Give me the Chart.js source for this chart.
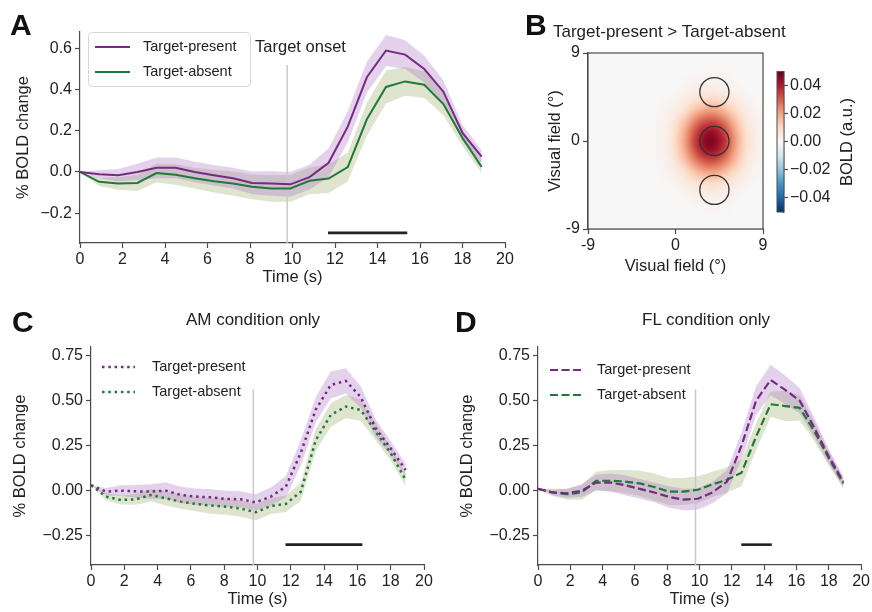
<!DOCTYPE html>
<html>
<head>
<meta charset="utf-8">
<script src="https://cdn.jsdelivr.net/npm/chart.js@4.4.1/dist/chart.umd.min.js"></script>
<style>
  html, body { margin: 0; padding: 0; background: #fff; }
  #fig { position: relative; width: 872px; height: 612px; overflow: hidden; background: #fff;
         font-family: "Liberation Sans", Arial, sans-serif; color: #222; }
  #fig canvas { position: absolute; }
  .letter { position: absolute; font-weight: bold; font-size: 30px; line-height: 30px; color: #111; }
  .title { position: absolute; font-size: 17px; line-height: 17px; color: #222; white-space: nowrap; }
</style>
</head>
<body>
<div id="fig">
  <canvas id="cA" width="520" height="290" style="left:0px;top:0px;width:520px;height:290px"></canvas>
  <canvas id="cB" width="240" height="241" style="left:530px;top:39px;width:240px;height:241px"></canvas>
  <canvas id="cBar" width="102" height="165" style="left:770px;top:60px;width:102px;height:165px"></canvas>
  <canvas id="cC" width="436" height="317" style="left:0px;top:295px;width:436px;height:317px"></canvas>
  <canvas id="cD" width="424" height="317" style="left:448px;top:295px;width:424px;height:317px"></canvas>

  <div class="letter" style="left:10px;top:10px">A</div>
  <div class="letter" style="left:525px;top:10px">B</div>
  <div class="letter" style="left:12px;top:307px">C</div>
  <div class="letter" style="left:455px;top:307px">D</div>

  <div class="title" style="left:553px;top:23px">Target-present &gt; Target-absent</div>
  <div class="title" style="left:253px;top:311px;transform:translateX(-50%)">AM condition only</div>
  <div class="title" style="left:706px;top:311px;transform:translateX(-50%)">FL condition only</div>
</div>

<script>
// ---------- time courses (% BOLD change), one sample every 0.9 s ----------
const TIME = [0, 0.9, 1.8, 2.7, 3.6, 4.5, 5.4, 6.3, 7.2, 8.1, 9.0, 9.9, 10.8, 11.7, 12.6, 13.5, 14.4, 15.3, 16.2, 17.1, 18.0, 18.9];

// A: all trials
const A_PRESENT     = [0, -0.011, -0.016, 0.0, 0.02, 0.02, 0.0, -0.016, -0.03, -0.053, -0.056, -0.06, -0.025, 0.045, 0.22, 0.46, 0.59, 0.57, 0.50, 0.39, 0.19, 0.075];
const A_PRESENT_ERR = [0, 0.02, 0.03, 0.04, 0.05, 0.05, 0.05, 0.05, 0.05, 0.055, 0.06, 0.06, 0.06, 0.07, 0.075, 0.075, 0.075, 0.07, 0.065, 0.055, 0.04, 0.03];
const A_ABSENT      = [0, -0.048, -0.056, -0.053, -0.005, -0.013, -0.03, -0.045, -0.056, -0.072, -0.08, -0.08, -0.043, -0.032, 0.024, 0.256, 0.413, 0.44, 0.424, 0.33, 0.165, 0.025];
const A_ABSENT_ERR  = [0, 0.02, 0.03, 0.04, 0.045, 0.05, 0.05, 0.055, 0.06, 0.06, 0.065, 0.065, 0.065, 0.07, 0.07, 0.08, 0.08, 0.07, 0.065, 0.055, 0.04, 0.03];

// C: AM condition
const C_PRESENT     = [0.03, -0.005, 0, -0.004, -0.005, 0.0, -0.024, -0.033, -0.037, -0.046, -0.048, -0.065, -0.033, 0.022, 0.21, 0.45, 0.587, 0.61, 0.52, 0.346, 0.235, 0.115];
const C_PRESENT_ERR = [0, 0.02, 0.03, 0.035, 0.04, 0.045, 0.045, 0.045, 0.045, 0.045, 0.045, 0.045, 0.05, 0.06, 0.07, 0.07, 0.075, 0.07, 0.06, 0.05, 0.04, 0.035];
const C_ABSENT      = [0.03, -0.033, -0.052, -0.048, -0.024, -0.043, -0.061, -0.074, -0.083, -0.089, -0.1, -0.12, -0.085, -0.074, -0.006, 0.28, 0.42, 0.467, 0.448, 0.328, 0.207, 0.06];
const C_ABSENT_ERR  = [0, 0.02, 0.025, 0.03, 0.035, 0.04, 0.04, 0.04, 0.045, 0.045, 0.045, 0.045, 0.045, 0.045, 0.05, 0.06, 0.065, 0.065, 0.06, 0.05, 0.04, 0.035];

// D: FL condition
const D_PRESENT     = [0.01, -0.01, -0.015, 0.0, 0.045, 0.045, 0.03, 0.01, -0.01, -0.035, -0.05, -0.045, -0.01, 0.05, 0.25, 0.5, 0.615, 0.56, 0.5, 0.35, 0.19, 0.05];
const D_PRESENT_ERR = [0, 0.015, 0.025, 0.035, 0.045, 0.05, 0.055, 0.055, 0.055, 0.06, 0.06, 0.06, 0.06, 0.065, 0.075, 0.08, 0.085, 0.08, 0.07, 0.055, 0.04, 0.03];
const D_ABSENT      = [0.01, -0.01, -0.02, -0.01, 0.055, 0.055, 0.05, 0.04, 0.02, -0.005, -0.005, 0.005, 0.035, 0.06, 0.1, 0.3, 0.48, 0.47, 0.46, 0.33, 0.18, 0.04];
const D_ABSENT_ERR  = [0, 0.02, 0.03, 0.04, 0.05, 0.06, 0.065, 0.07, 0.075, 0.075, 0.075, 0.075, 0.07, 0.07, 0.075, 0.075, 0.07, 0.085, 0.07, 0.055, 0.04, 0.03];

// target onset and significant clusters (s)
const ONSET = 9.75;
const A_SIG = [11.67, 15.4];
const C_SIG = [11.68, 16.3];
const D_SIG = [12.58, 14.47];

// tick labels
const TIME_TICKS = [0, 2, 4, 6, 8, 10, 12, 14, 16, 18, 20];
const A_Y_TICKS = [-0.2, 0.0, 0.2, 0.4, 0.6];
const CD_Y_TICKS = [-0.25, 0.0, 0.25, 0.5, 0.75];
const FIELD_TICKS = [-9, 0, 9];
const CBAR_TICKS = [-0.04, -0.02, 0.0, 0.02, 0.04];

// B: contrast map (units of 0.001 a.u.), rows y = 9 .. -9, columns x = -9 .. 9 (deg)
const MAP_UNIT = 0.001;
const FIELD_X = [-9, -8, -7, -6, -5, -4, -3, -2, -1, 0, 1, 2, 3, 4, 5, 6, 7, 8, 9];
const FIELD_Y = [9, 8, 7, 6, 5, 4, 3, 2, 1, 0, -1, -2, -3, -4, -5, -6, -7, -8, -9];
const CONTRAST_MAP = [
  [0,0,0,0,0,0,0,0,0,0,0,0,0,0,0,0,0,0,0],
  [0,0,0,0,0,0,0,0,0,0,0,0,0,0,0,0,0,0,0],
  [0,0,0,0,0,0,0,0,0,0,0,0,1,1,1,0,0,0,0],
  [0,0,0,0,0,0,0,0,0,0,1,2,2,2,2,1,0,0,0],
  [0,0,0,0,0,0,0,0,0,1,2,4,5,5,4,3,1,0,0],
  [0,0,0,0,0,0,0,0,1,2,5,9,11,12,9,6,3,1,0],
  [0,0,0,0,0,0,0,0,2,4,9,16,21,22,17,11,5,2,0],
  [0,0,0,0,0,0,0,1,2,7,15,25,32,33,27,17,8,3,1],
  [0,0,0,0,0,0,0,1,3,9,19,32,42,43,34,21,10,4,1],
  [0,0,0,0,0,0,0,1,3,10,21,35,46,47,38,23,11,4,1],
  [0,0,0,0,0,0,0,1,3,9,19,32,42,43,34,21,10,4,1],
  [0,0,0,0,0,0,0,1,2,7,15,25,32,33,27,17,8,3,1],
  [0,0,0,0,0,0,0,0,2,4,9,16,21,22,17,11,5,2,0],
  [0,0,0,0,0,0,0,0,1,2,5,9,11,12,9,6,3,1,0],
  [0,0,0,0,0,0,0,0,0,1,2,4,5,5,4,3,1,0,0],
  [0,0,0,0,0,0,0,0,0,0,1,2,2,2,2,1,0,0,0],
  [0,0,0,0,0,0,0,0,0,0,0,0,1,1,1,0,0,0,0],
  [0,0,0,0,0,0,0,0,0,0,0,0,0,0,0,0,0,0,0],
  [0,0,0,0,0,0,0,0,0,0,0,0,0,0,0,0,0,0,0]
];
// stimulus locations (deg) and radius
const STIM_X = [4, 4, 4];
const STIM_Y = [5, 0, -5];
const STIM_R = 1.5;
const CBAR_MIN = -0.05, CBAR_MAX = 0.05;

// ---------- styling ----------
const FONT = '"Liberation Sans", Arial, Helvetica, sans-serif';
const PURPLE = '#762a83';
const GREEN = '#1f7a3a';
const PURPLE_BAND = 'rgba(165,105,195,0.30)';
const GREEN_BAND = 'rgba(130,150,70,0.26)';
const AXIS = '#4a4a4a';
const RDBU_R = ['#053061','#2166ac','#4393c3','#92c5de','#d1e5f0','#f7f7f7','#fddbc7','#f4a582','#d6604d','#b2182b','#67001f'];

Chart.defaults.font.family = FONT;
Chart.defaults.color = '#222';

const tickFont = { family: FONT, size: 16 };
const titleFont = { family: FONT, size: 16.5 };
const minusFmt = d => v => (Math.abs(v) < 1e-9 ? 0 : v).toFixed(d).replace('-', '\u2212');

function axis(opts) {
  const a = {
    type: 'linear',
    min: opts.min, max: opts.max,
    position: opts.position,
    afterBuildTicks: s => { s.ticks = opts.ticks.map(v => ({ value: v })); },
    ticks: { font: tickFont, color: '#222', padding: opts.pad, autoSkip: false, maxRotation: 0,
             callback: opts.fmt },
    grid: { display: true, drawOnChartArea: false, drawTicks: true, tickLength: opts.tl || 5,
            color: AXIS, tickColor: AXIS, tickWidth: 1.2 },
    border: { display: true, color: AXIS, width: 1.2 },
    title: opts.title ? { display: true, text: opts.title, font: titleFont, color: '#222',
                          padding: opts.titlePad } : { display: false }
  };
  if (opts.size != null) {
    a.afterFit = s => { if (s.isHorizontal()) s.height = opts.size; else s.width = opts.size; };
  }
  return a;
}

function drawLegend(chart, L) {
  const ctx = chart.ctx, a = chart.chartArea;
  ctx.save();
  if (L.frame) {
    const x = a.left + L.frame[0], y = a.top + L.frame[1], w = L.frame[2], h = L.frame[3], r = 4;
    ctx.beginPath();
    ctx.roundRect(x + 0.5, y + 0.5, w, h, r);
    ctx.fillStyle = 'rgba(255,255,255,0.85)';
    ctx.fill();
    ctx.strokeStyle = '#d6d6d6';
    ctx.lineWidth = 1;
    ctx.stroke();
  }
  L.items.forEach((it, i) => {
    const y = a.top + L.rows[i];
    ctx.beginPath();
    ctx.setLineDash(it.dash || []);
    ctx.strokeStyle = it.color;
    ctx.lineWidth = it.lw;
    ctx.moveTo(a.left + L.line[0], y);
    ctx.lineTo(a.left + L.line[1], y);
    ctx.stroke();
    ctx.setLineDash([]);
    ctx.fillStyle = '#222';
    ctx.font = '14.5px ' + FONT;
    ctx.textAlign = 'left';
    ctx.textBaseline = 'middle';
    ctx.fillText(it.label, a.left + L.text, y);
  });
  ctx.restore();
}

function timeChart(id, P) {
  const band = (vals, errs, s) => TIME.map((t, i) => ({ x: t, y: vals[i] + s * errs[i] }));
  const line = vals => TIME.map((t, i) => ({ x: t, y: vals[i] }));
  const clear = 'rgba(0,0,0,0)';
  const datasets = [
    { data: band(P.present, P.presentErr, 1), fill: '+1', backgroundColor: PURPLE_BAND, borderColor: clear, borderWidth: 0, pointRadius: 0, order: 3 },
    { data: band(P.present, P.presentErr, -1), fill: false, borderColor: clear, borderWidth: 0, pointRadius: 0, order: 3 },
    { data: band(P.absent, P.absentErr, 1), fill: '+1', backgroundColor: GREEN_BAND, borderColor: clear, borderWidth: 0, pointRadius: 0, order: 4 },
    { data: band(P.absent, P.absentErr, -1), fill: false, borderColor: clear, borderWidth: 0, pointRadius: 0, order: 4 },
    { data: [{ x: ONSET, y: P.yMin }, { x: ONSET, y: P.onsetTop }], fill: false, borderColor: '#c9c9c9', borderWidth: 1.5, pointRadius: 0, order: 2 },
    { data: [{ x: P.sig[0], y: P.sigY }, { x: P.sig[1], y: P.sigY }], fill: false, borderColor: '#222', borderWidth: 2.6, pointRadius: 0, order: 2 },
    { data: line(P.absent), fill: false, borderColor: GREEN, borderWidth: P.lw, borderDash: P.dash, pointRadius: 0, order: 1 },
    { data: line(P.present), fill: false, borderColor: PURPLE, borderWidth: P.lw, borderDash: P.dash, pointRadius: 0, order: 0 }
  ];
  const decor = {
    id: 'decor_' + id,
    afterDraw(chart) {
      if (P.note) {
        const ctx = chart.ctx;
        ctx.save();
        ctx.font = '16.5px ' + FONT;
        ctx.fillStyle = '#222';
        ctx.textAlign = 'left';
        ctx.textBaseline = 'middle';
        ctx.fillText(P.note.text, chart.scales.x.getPixelForValue(P.note.x), chart.scales.y.getPixelForValue(P.note.y));
        ctx.restore();
      }
      drawLegend(chart, P.legend);
    }
  };
  return new Chart(document.getElementById(id), {
    type: 'line',
    data: { datasets },
    options: {
      responsive: false, animation: false, devicePixelRatio: 1, events: [],
      layout: { padding: P.padding },
      plugins: { legend: { display: false }, tooltip: { enabled: false } },
      scales: {
        x: axis({ min: 0, max: 20, position: 'bottom', ticks: TIME_TICKS, fmt: v => String(v), pad: 2,
                  title: 'Time (s)', titlePad: { top: 0, bottom: P.xTitlePad }, size: P.xSize }),
        y: axis({ min: P.yMin, max: P.yMax, position: 'left', ticks: P.yTicks, fmt: minusFmt(P.dec), pad: 3,
                  title: '% BOLD change', titlePad: { top: P.yTitlePad, bottom: 0 }, size: P.ySize })
      }
    },
    plugins: [decor]
  });
}

// ---------- A ----------
timeChart('cA', {
  present: A_PRESENT, presentErr: A_PRESENT_ERR, absent: A_ABSENT, absentErr: A_ABSENT_ERR,
  yMin: -0.345, yMax: 0.68, yTicks: A_Y_TICKS, dec: 1, onsetTop: 0.52,
  sig: A_SIG, sigY: -0.296, lw: 2, dash: [],
  padding: { top: 32, right: 15, left: 0, bottom: 0 }, xSize: 47, ySize: 80,
  xTitlePad: 2.9, yTitlePad: 13.4,
  note: { text: 'Target onset', x: 8.24, y: 0.607 },
  legend: { frame: [8, 0, 162, 54], line: [15, 50], text: 63, rows: [15, 40],
            items: [{ label: 'Target-present', color: PURPLE, lw: 2 }, { label: 'Target-absent', color: GREEN, lw: 2 }] }
});

// ---------- C ----------
timeChart('cC', {
  present: C_PRESENT, presentErr: C_PRESENT_ERR, absent: C_ABSENT, absentErr: C_ABSENT_ERR,
  yMin: -0.413, yMax: 0.798, yTicks: CD_Y_TICKS, dec: 2, onsetTop: 0.563,
  sig: C_SIG, sigY: -0.30, lw: 2.5, dash: [2.5, 3.8],
  padding: { top: 52, right: 12, left: 0, bottom: 0 }, xSize: 47, ySize: 91,
  xTitlePad: 2.4, yTitlePad: 10.4,
  legend: { frame: null, line: [11, 44], text: 61, rows: [20, 45],
            items: [{ label: 'Target-present', color: PURPLE, lw: 2.5, dash: [2.5, 3.8] },
                    { label: 'Target-absent', color: GREEN, lw: 2.5, dash: [2.5, 3.8] }] }
});

// ---------- D ----------
timeChart('cD', {
  present: D_PRESENT, presentErr: D_PRESENT_ERR, absent: D_ABSENT, absentErr: D_ABSENT_ERR,
  yMin: -0.413, yMax: 0.798, yTicks: CD_Y_TICKS, dec: 2, onsetTop: 0.563,
  sig: D_SIG, sigY: -0.30, lw: 2.2, dash: [8, 3.5],
  padding: { top: 52, right: 10.3, left: 0, bottom: 0 }, xSize: 47, ySize: 90,
  xTitlePad: 2.4, yTitlePad: 9.1,
  legend: { frame: null, line: [12, 45], text: 59, rows: [23, 48],
            items: [{ label: 'Target-present', color: PURPLE, lw: 2.2, dash: [8, 3.5] },
                    { label: 'Target-absent', color: GREEN, lw: 2.2, dash: [8, 3.5] }] }
});

// ---------- B: contrast map ----------
function hexToRgb(h) { return [1, 3, 5].map(i => parseInt(h.slice(i, i + 2), 16)); }
const RDBU_RGB = RDBU_R.map(hexToRgb);
function cmap(t) {
  t = Math.max(0, Math.min(1, t));
  const f = t * (RDBU_RGB.length - 1), i = Math.min(Math.floor(f), RDBU_RGB.length - 2), u = f - i;
  const a = RDBU_RGB[i], b = RDBU_RGB[i + 1];
  return [0, 1, 2].map(k => Math.round(a[k] + (b[k] - a[k]) * u));
}

const heatmap = {
  id: 'heatmap',
  beforeDatasetsDraw(chart) {
    const ctx = chart.ctx, a = chart.chartArea, sx = chart.scales.x, sy = chart.scales.y;
    const nx = FIELD_X.length, ny = FIELD_Y.length;
    const off = document.createElement('canvas');
    off.width = nx; off.height = ny;
    const octx = off.getContext('2d');
    const img = octx.createImageData(nx, ny);
    for (let j = 0; j < ny; j++) {
      for (let i = 0; i < nx; i++) {
        const v = CONTRAST_MAP[j][i] * MAP_UNIT;
        const c = cmap((v - CBAR_MIN) / (CBAR_MAX - CBAR_MIN));
        const k = (j * nx + i) * 4;
        img.data[k] = c[0]; img.data[k + 1] = c[1]; img.data[k + 2] = c[2]; img.data[k + 3] = 255;
      }
    }
    octx.putImageData(img, 0, 0);
    // each sample is centred on its grid coordinate
    const x0 = sx.getPixelForValue(FIELD_X[0] - 0.5), x1 = sx.getPixelForValue(FIELD_X[nx - 1] + 0.5);
    const y0 = sy.getPixelForValue(FIELD_Y[0] + 0.5), y1 = sy.getPixelForValue(FIELD_Y[ny - 1] - 0.5);
    ctx.save();
    ctx.beginPath();
    ctx.rect(a.left, a.top, a.right - a.left, a.bottom - a.top);
    ctx.clip();
    ctx.imageSmoothingEnabled = true;
    ctx.imageSmoothingQuality = 'high';
    ctx.filter = 'blur(1.5px)';
    ctx.drawImage(off, x0, y0, x1 - x0, y1 - y0);
    ctx.restore();
  },
  afterDatasetsDraw(chart) {
    const ctx = chart.ctx, a = chart.chartArea;
    ctx.save();
    ctx.strokeStyle = AXIS;
    ctx.lineWidth = 1.2;
    ctx.strokeRect(a.left, a.top, a.right - a.left, a.bottom - a.top);
    ctx.restore();
  }
};

const stimRadius = c => {
  const s = c.chart.scales.x;
  return Math.abs(s.getPixelForValue(STIM_R) - s.getPixelForValue(0));
};

new Chart(document.getElementById('cB'), {
  type: 'scatter',
  data: { datasets: [{
    data: STIM_X.map((x, i) => ({ x, y: STIM_Y[i] })),
    pointRadius: stimRadius, pointHoverRadius: stimRadius,
    pointBackgroundColor: 'rgba(0,0,0,0)', pointBorderColor: '#333', pointBorderWidth: 1.3
  }] },
  options: {
    responsive: false, animation: false, devicePixelRatio: 1, events: [],
    layout: { padding: { top: 14, right: 7, left: 0, bottom: 0 } },
    plugins: { legend: { display: false }, tooltip: { enabled: false } },
    scales: {
      x: axis({ min: -9, max: 9, position: 'bottom', ticks: FIELD_TICKS, fmt: v => String(v), pad: 2,
                title: 'Visual field (\u00b0)', titlePad: { top: 0, bottom: 3.4 }, size: 51 }),
      y: axis({ min: -9, max: 9, position: 'left', ticks: FIELD_TICKS, fmt: v => String(v), pad: 3,
                title: 'Visual field (\u00b0)', titlePad: { top: 15.4, bottom: 0 }, size: 58 })
    }
  },
  plugins: [heatmap]
});

// ---------- B: colour bar ----------
const colorbar = {
  id: 'colorbar',
  beforeDatasetsDraw(chart) {
    const ctx = chart.ctx, a = chart.chartArea, s = chart.scales.y;
    const g = ctx.createLinearGradient(0, s.getPixelForValue(CBAR_MIN), 0, s.getPixelForValue(CBAR_MAX));
    RDBU_R.forEach((c, i) => g.addColorStop(i / (RDBU_R.length - 1), c));
    ctx.save();
    ctx.fillStyle = g;
    ctx.fillRect(a.left, a.top, a.right - a.left, a.bottom - a.top);
    ctx.strokeStyle = AXIS;
    ctx.lineWidth = 1;
    ctx.strokeRect(a.left, a.top, a.right - a.left, a.bottom - a.top);
    ctx.restore();
  },
  afterDraw(chart) {
    const ctx = chart.ctx;
    ctx.save();
    ctx.translate(77, 82);
    ctx.rotate(-Math.PI / 2);
    ctx.font = '16.5px ' + FONT;
    ctx.fillStyle = '#222';
    ctx.textAlign = 'center';
    ctx.textBaseline = 'middle';
    ctx.fillText('BOLD (a.u.)', 0, 0);
    ctx.restore();
  }
};

new Chart(document.getElementById('cBar'), {
  type: 'scatter',
  data: { datasets: [{ data: [] }] },
  options: {
    responsive: false, animation: false, devicePixelRatio: 1, events: [],
    layout: { padding: { top: 11, right: 0, left: 7, bottom: 13 } },
    plugins: { legend: { display: false }, tooltip: { enabled: false } },
    scales: {
      x: { type: 'linear', min: 0, max: 1, display: false },
      y: axis({ min: CBAR_MIN, max: CBAR_MAX, position: 'right', ticks: CBAR_TICKS, fmt: minusFmt(2), pad: 2, tl: 4,
                size: 88 })
    }
  },
  plugins: [colorbar]
});
</script>
</body>
</html>
